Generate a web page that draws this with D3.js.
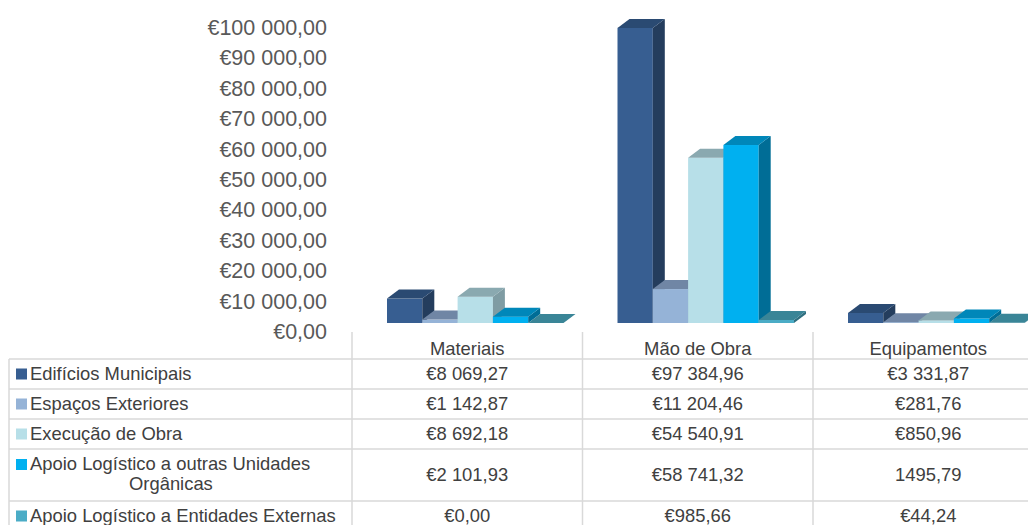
<!DOCTYPE html>
<html>
<head>
<meta charset="utf-8">
<script src="https://cdn.jsdelivr.net/npm/d3@7"></script>
<style>
    body { margin: 0; background: #ffffff; }
    svg text { font-family: "Liberation Sans", Arial, sans-serif; }
</style>
</head>
<body>
<svg id="chart" width="1028" height="525"></svg>
<script>

// categories and series
var categories = ["Materiais", "Mão de Obra", "Equipamentos"];
var seriesNames = ["Edifícios Municipais", "Espaços Exteriores", "Execução de Obra",
    "Apoio Logístico a outras Unidades Orgânicas", "Apoio Logístico a Entidades Externas"];

// values per series (Materiais, Mão de Obra, Equipamentos)
var edificiosMunicipais = [8069.27, 97384.96, 3331.87];
var espacosExteriores = [1142.87, 11204.46, 281.76];
var execucaoObra = [8692.18, 54540.91, 850.96];
var apoioUnidades = [2101.93, 58741.32, 1495.79];
var apoioEntidades = [0, 985.66, 44.24];

// y axis tick values
var yTicks = [0, 10000, 20000, 30000, 40000, 50000, 60000, 70000, 80000, 90000, 100000];

// table cells that are written without currency in the source (series, category)
var plainCells = [[3, 2]];

var allValues = [edificiosMunicipais, espacosExteriores, execucaoObra, apoioUnidades, apoioEntidades];

// colours: front, side, top
var colours = [
    ["#375e91", "#243d5d", "#2a4a72"],
    ["#95b3d7", "#6c82a0", "#7086a5"],
    ["#b7dfe8", "#7f9ca3", "#8aa9b0"],
    ["#00b0f0", "#006d96", "#0087b9"],
    ["#4bacc6", "#2f6f80", "#3a8597"]
];

var pt = d3.formatLocale({decimal: ",", thousands: " ", grouping: [3], currency: ["€", ""]});
var euro = pt.format("$,.2f");
var plain = pt.format(".2f");

var svg = d3.select("#chart");

// geometry of the plot and table
var tableLeft = 9, firstCol = 352, colWidth = 230.5;
var depthX = 12, depthY = 9;
var rowLines = [359, 389, 419, 449, 501];
var axisFont = "21.5px", tableFont = "18.4px";

var x0 = d3.scaleBand()
    .domain(categories)
    .range([firstCol, firstCol + colWidth * categories.length]);

var x1 = d3.scaleBand()
    .domain(d3.range(seriesNames.length))
    .range([35, 35 + 35.3 * seriesNames.length]);

var yBar = d3.scaleLinear().domain([0, 100000]).range([323, 20]);
var yLabel = d3.scaleLinear().domain([0, 100000]).range([331, 27]);

// draw the y axis labels
function drawAxis() {
    var axis = d3.axisLeft(yLabel)
        .tickValues(yTicks)
        .tickSize(0)
        .tickPadding(0)
        .tickFormat(euro);

    var g = svg.append("g")
        .attr("transform", "translate(327,0)")
        .call(axis);

    g.select(".domain").remove();
    g.selectAll("text")
        .attr("font-size", axisFont)
        .attr("fill", "#595959")
        .attr("dy", "0.35em");
};

// draw one 3d bar
function drawBar(g, x, w, value, c) {
    var yTop = yBar(value);
    var yBottom = yBar(0);

    if (yBottom - yTop > 0) {
        g.append("rect")
            .attr("x", x).attr("y", yTop)
            .attr("width", w).attr("height", yBottom - yTop)
            .attr("fill", c[0]);

        g.append("path")
            .attr("d", "M" + (x + w) + "," + yTop + "L" + (x + w + depthX) + "," + (yTop - depthY) +
                "L" + (x + w + depthX) + "," + (yBottom - depthY) + "L" + (x + w) + "," + yBottom + "Z")
            .attr("fill", c[1]);
    }

    g.append("path")
        .attr("d", "M" + x + "," + yTop + "L" + (x + depthX) + "," + (yTop - depthY) +
            "L" + (x + w + depthX) + "," + (yTop - depthY) + "L" + (x + w) + "," + yTop + "Z")
        .attr("fill", c[2]);
};

// draw all the bars, left to right so later bars cover earlier sides
function drawBars() {
    var g = svg.append("g");
    categories.forEach(function(cat, ci) {
        allValues.forEach(function(values, si) {
            drawBar(g, x0(cat) + x1(si), x1.bandwidth(), values[ci], colours[si]);
        });
    });
};

// draw the data table with legend keys
function drawTable() {
    var g = svg.append("g");
    var lineColour = "#d9d9d9";

    // horizontal lines
    g.selectAll(".hline")
        .data(rowLines)
        .enter().append("line")
        .attr("x1", tableLeft).attr("x2", 1028)
        .attr("y1", function(d) { return d; })
        .attr("y2", function(d) { return d; })
        .attr("stroke", lineColour).attr("stroke-width", 1.5);

    // vertical lines
    g.append("line")
        .attr("x1", tableLeft).attr("x2", tableLeft)
        .attr("y1", rowLines[0]).attr("y2", 525)
        .attr("stroke", lineColour).attr("stroke-width", 1.5);

    g.selectAll(".vline")
        .data(categories)
        .enter().append("line")
        .attr("x1", function(d) { return x0(d); })
        .attr("x2", function(d) { return x0(d); })
        .attr("y1", 332).attr("y2", 525)
        .attr("stroke", lineColour).attr("stroke-width", 1.5);

    // category headers
    g.selectAll(".header")
        .data(categories)
        .enter().append("text")
        .attr("x", function(d) { return x0(d) + colWidth / 2; })
        .attr("y", 349)
        .attr("dy", "0.35em")
        .attr("text-anchor", "middle")
        .attr("font-size", tableFont)
        .attr("fill", "#404040")
        .text(function(d) { return d; });

    // rows
    seriesNames.forEach(function(name, si) {
        var top = rowLines[si];
        var bottom = si + 1 < rowLines.length ? rowLines[si + 1] : 531;
        var mid = (top + bottom) / 2;

        g.append("rect")
            .attr("x", 16).attr("y", si == 3 ? 459 : mid - 5.5)
            .attr("width", 11).attr("height", 11)
            .attr("fill", colours[si][0]);

        if (si == 3) {
            g.append("text")
                .attr("x", 30).attr("y", 464).attr("dy", "0.35em")
                .attr("font-size", tableFont).attr("fill", "#404040")
                .text("Apoio Logístico a outras Unidades");
            g.append("text")
                .attr("x", 129).attr("y", 484).attr("dy", "0.35em")
                .attr("font-size", tableFont).attr("fill", "#404040")
                .text("Orgânicas");
        }
        else {
            g.append("text")
                .attr("x", 30).attr("y", mid).attr("dy", "0.35em")
                .attr("font-size", tableFont).attr("fill", "#404040")
                .text(name);
        };

        categories.forEach(function(cat, ci) {
            var isPlain = plainCells.some(function(p) { return p[0] == si && p[1] == ci; });
            g.append("text")
                .attr("x", x0(cat) + colWidth / 2)
                .attr("y", mid).attr("dy", "0.35em")
                .attr("text-anchor", "middle")
                .attr("font-size", tableFont).attr("fill", "#404040")
                .text(isPlain ? plain(allValues[si][ci]) : euro(allValues[si][ci]));
        });
    });
};

drawAxis();
drawBars();
drawTable();

</script>
</body>
</html>
